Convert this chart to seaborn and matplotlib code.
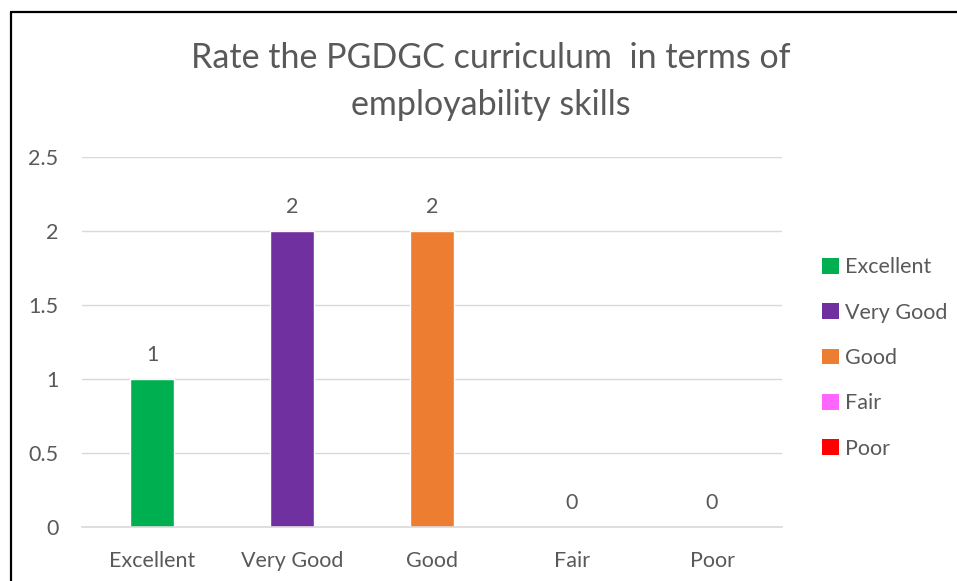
import matplotlib
matplotlib.use("Agg")
import matplotlib.pyplot as plt
import seaborn as sns
import pandas as pd
from matplotlib.lines import Line2D
from matplotlib.patches import Patch

categories = ["Excellent", "Very Good", "Good", "Fair", "Poor"]
counts = [1, 2, 2, 0, 0]
colors = ["#00B050", "#7030A0", "#ED7D31", "#FF66FF", "#FF0000"]
title = "Rate the PGDGC curriculum  in terms of\nemployability skills"
yticks = [0, 0.5, 1, 1.5, 2, 2.5]

sns.set_theme(style="white")
plt.rcParams["font.family"] = ["Lato", "DejaVu Sans"]
TXT = "#595959"

df = pd.DataFrame({"Rating": categories, "Count": counts})

W, H = 957, 581
fig = plt.figure(figsize=(W / 100, H / 100), dpi=100)
ax = fig.add_axes([82 / W, 1 - 527 / H, 700 / W, 370 / H])

sns.barplot(data=df, x="Rating", y="Count", hue="Rating", order=categories,
            hue_order=categories, palette=colors, width=0.314, dodge=False,
            legend=False, ax=ax, saturation=1)

ax.set_xlim(-0.5, 4.5)
ax.set_ylim(0, 2.5)
ax.set_yticks(yticks)
ax.set_yticklabels([f"{t:g}" for t in yticks])
ax.yaxis.grid(True, color="#D9D9D9", linewidth=1)
ax.set_axisbelow(True)
for s in ["left", "right", "top"]:
    ax.spines[s].set_visible(False)
ax.spines["bottom"].set_color("#D9D9D9")
ax.spines["bottom"].set_linewidth(1.2)
ax.tick_params(axis="y", length=0, pad=17, labelsize=15.5, labelcolor=TXT)
ax.tick_params(axis="x", length=0, pad=17, labelsize=15.5, labelcolor=TXT)
ax.set_xlabel("")
ax.set_ylabel("")

for c in ax.containers:
    ax.bar_label(c, fmt="%g", padding=10, fontsize=15.5, color=TXT)

fig.text(491 / W, 1 - 81.5 / H, title, ha="center", va="center",
         fontsize=24.5, color=TXT, linespacing=1.56)

handles = [Patch(facecolor=col, edgecolor="none", label=cat)
           for cat, col in zip(categories, colors)]
leg = fig.legend(handles=handles, loc="center left",
                 bbox_to_anchor=(803 / W, 1 - 358 / H), frameon=False,
                 handlelength=0.75, handleheight=0.75, handletextpad=0.3,
                 labelspacing=1.18, fontsize=15.5)
for t in leg.get_texts():
    t.set_color(TXT)

fig.add_artist(Line2D([11 / W, 1], [1 - 12 / H, 1 - 12 / H], color="black",
                      linewidth=1.6, transform=fig.transFigure))
fig.add_artist(Line2D([11 / W, 11 / W], [0, 1 - 12 / H], color="black",
                      linewidth=1.6, transform=fig.transFigure))

fig.savefig("out.png", dpi=100)
